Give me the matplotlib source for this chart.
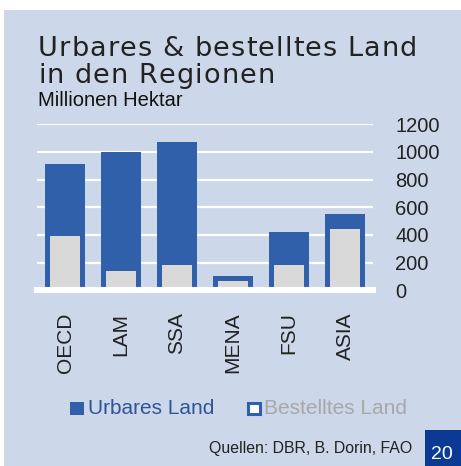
import matplotlib
matplotlib.use("Agg")
import matplotlib.pyplot as plt
from matplotlib.patches import Rectangle

# data (Millionen Hektar)
regions = ["OECD", "LAM", "SSA", "MENA", "FSU", "ASIA"]
urbares = [915, 1000, 1070, 105, 423, 553]
bestellt = [395, 140, 185, 67, 180, 443]
y_ticks = [0, 200, 400, 600, 800, 1000, 1200]

BG = "#ccd7e9"
BLUE = "#3160ab"
GRAY = "#d9d9d9"
W, H = 461, 466

plt.rcParams["font.family"] = ["Liberation Sans", "DejaVu Sans"]

fig = plt.figure(figsize=(W / 100, H / 100), dpi=100, facecolor="white")
fig.add_artist(Rectangle((4 / W, 0), 1, 1 - 10 / H, transform=fig.transFigure,
                         facecolor=BG, edgecolor="none", zorder=-10))


def px(x, y):
    # pixel position (from top-left) -> figure fraction
    return x / W, 1 - y / H


def char_widths(s, **kw):
    r = fig.canvas.get_renderer()
    widths = []
    for ch in s:
        if ch == " ":
            a = fig.text(0, 0, "x x", **kw)
            b = fig.text(0, 0, "xx", **kw)
            w = a.get_window_extent(r).width - b.get_window_extent(r).width
            a.remove()
            b.remove()
        else:
            t = fig.text(0, 0, ch, **kw)
            w = t.get_window_extent(r).width
            t.remove()
        widths.append(w)
    return widths


def spaced_text(s, x, y, gap, **kw):
    # draw a string letter by letter with extra spacing (gap in px)
    for ch, w in zip(s, char_widths(s, **kw)):
        fig.text(*px(x, y), ch, va="baseline", ha="left", **kw)
        x += w + gap


# title, letter-spaced so the first line spans ~379 px
title_kw = dict(fontsize=19.5, color="#222222", family="DejaVu Sans")
line1 = "Urbares & bestelltes Land"
gap = (379 - sum(char_widths(line1, **title_kw))) / (len(line1) - 1)
spaced_text(line1, 38, 56, gap, **title_kw)
spaced_text("in den Regionen", 38, 83, gap, **title_kw)
fig.text(*px(38, 106), "Millionen Hektar", fontsize=14.5, color="#111111",
         va="baseline", ha="left")

# chart
ax = fig.add_axes([37 / W, 1 - 290.3 / H, 336 / W, 166 / H])
ax.set_facecolor("none")
x = range(len(regions))
ax.bar(x, urbares, width=40 / 56, color=BLUE, zorder=2)
ax.bar(x, bestellt, width=30 / 56, color=GRAY, zorder=3)
ax.axhline(0, color="white", lw=4.4, zorder=4, clip_on=False)
ax.set_xlim(-0.5, 5.5)
ax.set_ylim(0, 1200)
ax.set_yticks(y_ticks)
ax.grid(axis="y", color="white", lw=1.6, zorder=0)
ax.set_axisbelow(True)
for sp in ax.spines.values():
    sp.set_visible(False)
ax.yaxis.tick_right()
ax.tick_params(axis="y", length=0, pad=16, labelsize=14.5, labelcolor="#222222")
ax.set_xticks(list(x))
ax.set_xticklabels(regions, rotation=90, fontsize=15, color="#222222")
ax.tick_params(axis="x", length=0, pad=16)
for lab in ax.get_yticklabels():
    lab.set_ha("left")

# legend
fig.add_artist(Rectangle(px(70, 415), 14 / W, 13 / H, transform=fig.transFigure,
                         facecolor=BLUE, edgecolor="none"))
fig.text(*px(88, 414), "Urbares Land", fontsize=15, color="#2e5597",
         va="baseline", ha="left")
fig.add_artist(Rectangle(px(248, 414), 11.5 / W, 11 / H, transform=fig.transFigure,
                         facecolor="white", edgecolor=BLUE, lw=2.2))
fig.text(*px(264, 414), "Bestelltes Land", fontsize=15, color="#a8a8a8",
         va="baseline", ha="left")

# footer
fig.text(*px(209, 453), "Quellen: DBR, B. Dorin, FAO", fontsize=11.4,
         color="#222222", va="baseline", ha="left")
fig.add_artist(Rectangle(px(425, 466), 36 / W, 36 / H, transform=fig.transFigure,
                         facecolor="#0a3a94", edgecolor="none"))
fig.text(*px(431, 459), "20", fontsize=14, color="white", va="baseline", ha="left")

fig.savefig("out.png", dpi=100, facecolor="white")
